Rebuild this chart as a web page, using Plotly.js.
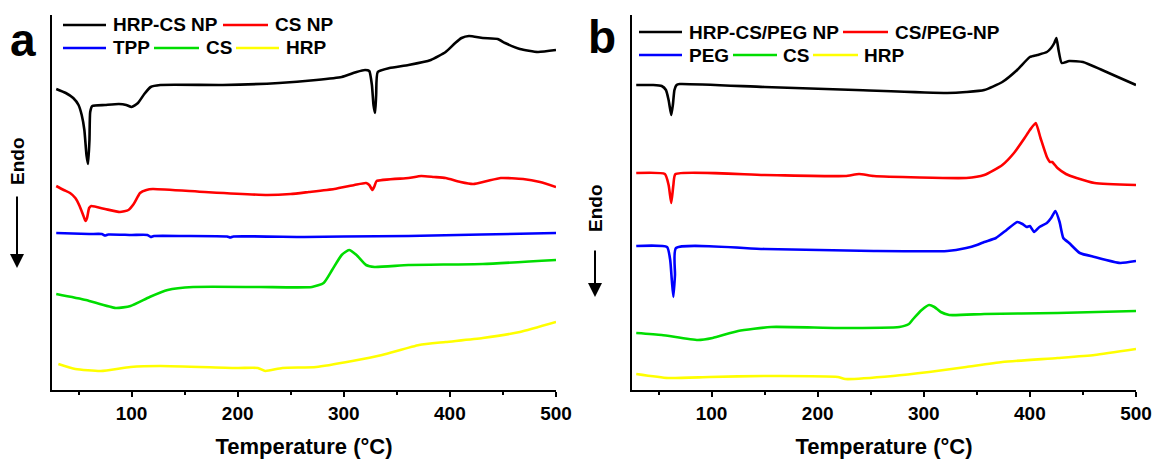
<!DOCTYPE html>
<html>
<head>
<meta charset="utf-8">
<script src="https://cdn.plot.ly/plotly-3.0.1.min.js"></script>
<style>
  html, body { margin: 0; padding: 0; background: #fff; }
  #chart { width: 1156px; height: 459px; }
</style>
</head>
<body>
<div id="chart"></div>
<script>
// ---------------- DATA ----------------
// Panel a: DSC curves (arbitrary heat-flow units, offset per curve)
const aNames  = ["HRP-CS NP", "CS NP", "TPP", "CS", "HRP"];
const aColors = ["#000000", "#ff0000", "#0000ff", "#00dd00", "#ffff00"];

const a_hrpcs_T = [29,38,45,50,53,55.5,57.5,59,60.3,61,63,75,88,95,100,106,112,118,127,186,239,274,298,312,320,324,326.5,328,329.5,330.5,332,343,361,382,396,405,411,418,431,445,452,466,483,500];
const a_hrpcs_V = [301,297,292,285,275,260,235,226,250,278,284,285,286,285,283,287,296,303,305,305,307,310,313,318,320,319,305,285,277,295,318,322,325,330,338,347,352,354,352,351,347,341,338,340];

const a_csnp_T = [29,36,42,47,51,54,56.5,58,60,62,75,89,97,102,108,114,120,169,228,250,267,291,310,321,324,327,329,331,361,373,385,396,410,422,435,448,469,485,500];
const a_csnp_V = [204,200,197,192,184,176,169,172,182,184,181,178,180,186,197,200,201,198,195,196,198,201,205,207,205,200,204,209,212,214,213,212,208,206,209,212,211,208,203];

const a_tpp_T = [29,60,72,75,78,100,115,118,121,150,190,193,196,263,300,361,430,500];
const a_tpp_V = [157,156,156,154.5,155.5,155,155,153,154,154,153.5,152.5,153.5,153,153.5,154,155.5,157];

const a_cs_T = [29,57,85,99,117,134,158,221,270,281,289,298,305,312,321,329,361,431,500];
const a_cs_V = [96,90,82,84,93,100,103,103,103,107,120,135,140,135,125,123,125,126,130];

const a_hrp_T = [31,47,71,99,127,200,219,226,242,274,308,336,371,396,431,466,500];
const a_hrp_V = [26,21,19,23,24,22,22,19,22,23,29,35,45,48,52,58,68];

// Panel b
const bNames  = ["HRP-CS/PEG NP", "CS/PEG-NP", "PEG", "CS", "HRP"];
const bColors = ["#000000", "#ff0000", "#0000ff", "#00dd00", "#ffff00"];

const b_hrpcspeg_T = [29,45,53,57,59.5,62,63.5,65,67,70,150,236,322,340,357,374,388,400,407,416,420,423,425,427,430,437,450,468,485,500];
const b_hrpcspeg_V = [305,305,304,300,290,275,285,300,305,306,303,300,297,298,300,308,320,333,335,338,342,347,352,340,327,329,328,320,312,305];

const b_cspeg_T = [29,56,59.5,62,64,66,150,226,239,253,340,357,374,385,395,400,405.5,410,416,419,421,426,434,444,461,500];
const b_cspeg_V = [217,216,205,187,205,216,215,214,216,214,212,215,225,237,252,260,267,252,233,228,228,222,216,212,207,205];

const b_peg_T = [29,58,61,62.5,64,65.5,66.5,150,253,322,340,350,357,368,378,388,393,397,400,404,409,416,420,424,428,431.5,437,447,461,485,500];
const b_peg_V = [144,143,130,110,93,115,142,141,139,139,142,145,148,152,160,168,166,163,164,158,163,167,172,179,168,152,147,137,133,127,129];

const b_cs_T = [29,53,87,101,125,156,219,277,286,290,298,305,310,316,324,357,426,500];
const b_cs_V = [57,55,50,52,59,63,62,63,66,71,80,85,83,78,75,76,77,79];

const b_hrp_T = [29,59,98,150,219,226,271,305,340,374,426,461,500];
const b_hrp_V = [16,12,13,14,13,11,14,18,23,28,32,35,41];

const xTickVals = [100, 200, 300, 400, 500];
const xTitle = "Temperature (°C)";
const yLabel = "Endo";
const panelLetters = ["a", "b"];

// ---------------- FIGURE ----------------
const W = 1156, H = 459;
const FONT = "Arial, 'Liberation Sans', Helvetica, sans-serif";
const px = x => x / W;            // pixel -> paper x
const py = y => (H - y) / H;      // pixel -> paper y

const aT = [a_hrpcs_T, a_csnp_T, a_tpp_T, a_cs_T, a_hrp_T];
const aV = [a_hrpcs_V, a_csnp_V, a_tpp_V, a_cs_V, a_hrp_V];
const bT = [b_hrpcspeg_T, b_cspeg_T, b_peg_T, b_cs_T, b_hrp_T];
const bV = [b_hrpcspeg_V, b_cspeg_V, b_peg_V, b_cs_V, b_hrp_V];

const traces = [];
aNames.forEach((n, i) => traces.push({
  x: aT[i], y: aV[i], name: n, type: "scatter", mode: "lines",
  line: {color: aColors[i], width: 2.6, shape: "spline", smoothing: 0.5},
  xaxis: "x", yaxis: "y", showlegend: false, hoverinfo: "skip"
}));
bNames.forEach((n, i) => traces.push({
  x: bT[i], y: bV[i], name: n, type: "scatter", mode: "lines",
  line: {color: bColors[i], width: 2.6, shape: "spline", smoothing: 0.5},
  xaxis: "x2", yaxis: "y2", showlegend: false, hoverinfo: "skip"
}));

const xAxisBase = {
  range: [25, 500], tickvals: xTickVals, ticks: "outside", ticklen: 5, tickwidth: 2,
  tickcolor: "#000", showline: true, linecolor: "#000", linewidth: 2.2,
  showgrid: false, zeroline: false,
  minor: {dtick: 50, tick0: 0, ticks: "outside", ticklen: 3, tickwidth: 2, tickcolor: "#000", showgrid: false},
  tickfont: {family: FONT, size: 19, color: "#000", weight: "bold"},
  title: {text: "<b>" + xTitle + "</b>", font: {family: FONT, size: 22, color: "#000"}, standoff: 19},
  automargin: false
};
const yAxisBase = {
  range: [0, 375], showline: true, linecolor: "#000", linewidth: 2.2,
  showticklabels: false, ticks: "", showgrid: false, zeroline: false, fixedrange: true
};

// legend drawn in paper space: [lineStart px, lineEnd px, textStart px, y px]
const legendLayoutA = [[63,106,111,25],[223,268,273,25],[63,106,111,48],[154,199,204,48],[236,279,284,48]];
const legendLayoutB = [[639,682,687,32],[843,888,893,32],[639,682,687,55],[733,777,781,55],[813,858,862,55]];

const shapes = [];
const annotations = [];
function addLegend(names, colors, pos) {
  names.forEach((n, i) => {
    const [x0, x1, tx, y] = pos[i];
    shapes.push({type: "line", xref: "paper", yref: "paper", x0: px(x0), x1: px(x1), y0: py(y), y1: py(y),
      line: {color: colors[i], width: 2.6}});
    annotations.push({xref: "paper", yref: "paper", x: px(tx), y: py(y), xanchor: "left", yanchor: "middle",
      text: "<b>" + n + "</b>", showarrow: false, font: {family: FONT, size: 19, color: "#000"}});
  });
}
addLegend(aNames, aColors, legendLayoutA);
addLegend(bNames, bColors, legendLayoutB);

// panel letters
annotations.push({xref: "paper", yref: "paper", x: px(23), y: py(40), xanchor: "center", yanchor: "middle",
  text: "<b>" + panelLetters[0] + "</b>", showarrow: false, font: {family: FONT, size: 46, color: "#000"}});
annotations.push({xref: "paper", yref: "paper", x: px(602), y: py(37), xanchor: "center", yanchor: "middle",
  text: "<b>" + panelLetters[1] + "</b>", showarrow: false, font: {family: FONT, size: 46, color: "#000"}});

// Endo labels + arrows
[[17, 161, 268, 73], [595, 208, 297, 48]].forEach(([x, ty, headY, len]) => {
  annotations.push({xref: "paper", yref: "paper", x: px(x), y: py(ty), xanchor: "center", yanchor: "middle",
    text: "<b>" + yLabel + "</b>", textangle: -90, showarrow: false, font: {family: FONT, size: 19, color: "#000"}});
  annotations.push({xref: "paper", yref: "paper", x: px(x), y: py(headY), ax: 0, ay: -len,
    text: "", showarrow: true, arrowhead: 2, arrowsize: 1.4, arrowwidth: 2, arrowcolor: "#000"});
});

const layout = {
  width: W, height: H,
  margin: {l: 0, r: 0, t: 0, b: 0},
  paper_bgcolor: "#fff", plot_bgcolor: "#fff",
  showlegend: false,
  xaxis: Object.assign({}, xAxisBase, {domain: [px(52), px(556)], anchor: "y"}),
  yaxis: Object.assign({}, yAxisBase, {domain: [py(390), py(15)], anchor: "x"}),
  xaxis2: Object.assign({}, xAxisBase, {domain: [px(632), px(1136)], anchor: "y2"}),
  yaxis2: Object.assign({}, yAxisBase, {domain: [py(390), py(15)], anchor: "x2"}),
  shapes: shapes,
  annotations: annotations
};

Plotly.newPlot("chart", traces, layout, {displayModeBar: false, staticPlot: true});
</script>
</body>
</html>
